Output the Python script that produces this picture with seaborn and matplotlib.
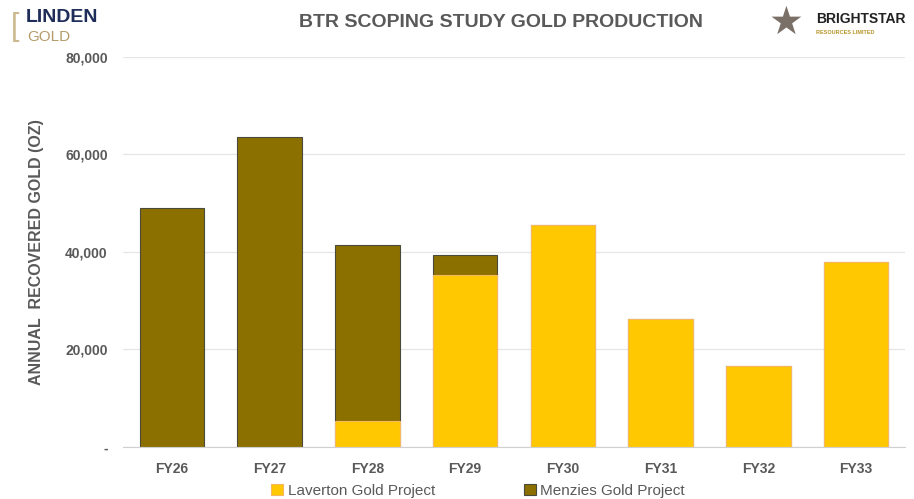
import numpy as np
import pandas as pd
import seaborn as sns
import matplotlib
matplotlib.use("Agg")
from matplotlib import pyplot as plt

years = ["FY26", "FY27", "FY28", "FY29", "FY30", "FY31", "FY32", "FY33"]
laverton = [0, 0, 5300, 35300, 45500, 26300, 16600, 37900]
menzies = [49000, 63600, 36100, 4100, 0, 0, 0, 0]
y_ticks = [0, 20000, 40000, 60000, 80000]
y_tick_labels = ["-", "20,000", "40,000", "60,000", "80,000"]

df = pd.DataFrame({"year": years, "laverton": laverton, "menzies": menzies})
df["total"] = df["laverton"] + df["menzies"]

sns.set_style("white")
plt.rcParams["font.family"] = ["Liberation Sans", "DejaVu Sans"]

grey = "#595959"
fig = plt.figure(figsize=(9.14, 4.99), dpi=100)
ax = fig.add_axes([0.1346, 0.1042, 0.8554, 0.7816])

# stacked: total drawn in Menzies colour, Laverton over the bottom part
sns.barplot(data=df, x="year", y="total", color="#8B7000", saturation=1,
            width=0.66, edgecolor="#4a4a3a", linewidth=0.8, ax=ax,
            label="Menzies Gold Project")
sns.barplot(data=df, x="year", y="laverton", color="#FFC800", saturation=1,
            width=0.66, edgecolor="#F5B860", linewidth=0.8, ax=ax,
            label="Laverton Gold Project")

ax.set_ylim(0, 80000)
ax.set_yticks(y_ticks)
ax.set_yticklabels(y_tick_labels)
ax.yaxis.grid(True, color="#e6e6e6", linewidth=0.9)
ax.set_axisbelow(True)
for s in ["top", "right", "left"]:
    ax.spines[s].set_visible(False)
ax.spines["bottom"].set_color("#d0d0d0")
ax.tick_params(axis="both", length=0, colors=grey, labelsize=10)
ax.tick_params(axis="y", pad=11)
ax.tick_params(axis="x", pad=11)
for t in ax.get_xticklabels() + ax.get_yticklabels():
    t.set_fontweight("bold")
ax.set_xlabel("")
ax.set_ylabel("ANNUAL  RECOVERED GOLD (OZ)", fontsize=11.5, fontweight="bold",
              color=grey, labelpad=15)

handles, labels = ax.get_legend_handles_labels()
ax.legend_.remove()
order = [labels.index("Laverton Gold Project"), labels.index("Menzies Gold Project")]
leg = fig.legend([handles[i] for i in order], [labels[i] for i in order],
                 loc="lower center", bbox_to_anchor=(0.523, -0.025), ncol=2,
                 frameon=False, fontsize=11, handlelength=0.8, handleheight=0.8,
                 handletextpad=0.3, columnspacing=5.8)
for t in leg.get_texts():
    t.set_color(grey)

fig.text(0.548, 0.955, "BTR SCOPING STUDY GOLD PRODUCTION", ha="center", va="center",
         fontsize=14, fontweight="bold", color=grey)

# logos as text
fig.text(0.028, 0.965, "LINDEN", ha="left", va="center", fontsize=14,
         fontweight="bold", color="#1f2d5a")
fig.text(0.03, 0.925, "GOLD", ha="left", va="center", fontsize=11,
         color="#b59b6a")
fig.text(0.012, 0.945, "[", ha="left", va="center", fontsize=22,
         color="#cdb98f")
fig.text(0.86, 0.955, "★", ha="center", va="center", fontsize=28,
         color="#7a7068", family="DejaVu Sans")
fig.text(0.893, 0.962, "BRIGHTSTAR", ha="left", va="center", fontsize=10,
         fontweight="bold", color="#222222")
fig.text(0.893, 0.935, "RESOURCES LIMITED", ha="left", va="center", fontsize=4,
         fontweight="bold", color="#b8952a")

fig.savefig("out.png", dpi=100)
